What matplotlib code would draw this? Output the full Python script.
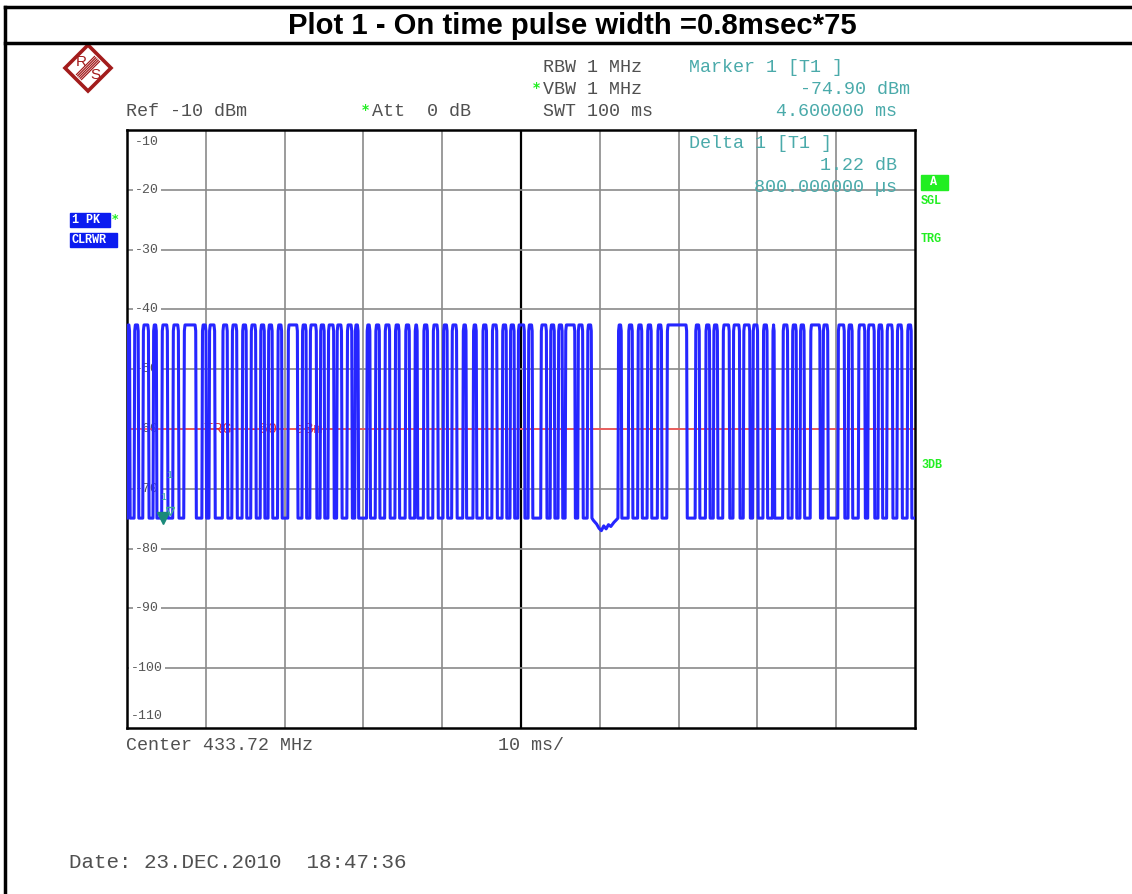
import numpy as np
import matplotlib
matplotlib.use("Agg")
import matplotlib.pyplot as plt
from matplotlib.patches import Polygon, Rectangle

# sweep: 0..100 ms, ref level -10 dBm, 10 dB/div
t_min, t_max = 0.0, 100.0
db_top, db_bottom = -10, -110
y_labels = [-10, -20, -30, -40, -50, -60, -70, -80, -90, -100, -110]

high_db = -42.6
low_db = -74.9
trigger_db = -60

# pulse on-times (ms)
pulse_start = [0.0, 0.9, 2.0, 3.3, 4.4, 5.8, 7.2, 9.5, 10.4, 12.1, 13.3, 14.6,
               15.7, 16.9, 17.9, 19.1, 20.4, 22.2, 23.2, 24.5, 25.5, 26.6, 27.9,
               28.9, 30.4, 31.5, 32.7, 34.0, 35.3, 36.5, 37.6, 38.8, 40.1, 41.2,
               42.6, 43.9, 45.1, 46.3, 47.6, 48.6, 49.6, 50.9, 52.5, 53.7, 54.7,
               55.6, 57.2, 58.4, 62.3, 63.6, 64.8, 66.0, 67.3, 68.5, 72.1, 73.4,
               74.4, 75.6, 76.9, 78.2, 79.4, 80.7, 81.9, 83.2, 84.4, 85.4, 86.7,
               88.3, 90.2, 91.5, 92.8, 94.0, 95.3, 96.4, 97.7, 99.0]
pulse_end = [0.4, 1.5, 2.8, 3.8, 5.2, 6.6, 8.8, 10.1, 11.2, 12.8, 14.0, 15.2,
             16.4, 17.5, 18.5, 19.7, 21.7, 22.8, 24.1, 25.1, 26.3, 27.3, 28.6,
             29.4, 30.9, 32.1, 33.4, 34.6, 35.9, 36.9, 38.2, 39.5, 40.7, 41.9,
             43.1, 44.4, 45.7, 47.0, 48.2, 49.2, 50.5, 51.5, 53.3, 54.3, 55.3,
             56.9, 57.9, 59.0, 62.8, 64.2, 65.4, 66.6, 67.9, 71.1, 72.7, 74.0,
             75.0, 76.5, 77.8, 79.1, 80.1, 81.3, 82.2, 83.9, 85.0, 86.0, 88.0,
             89.0, 91.1, 92.1, 93.7, 94.9, 95.9, 97.2, 98.4, 99.6]

# noisy floor in the long off-gap
noise_t = [59.2, 59.6, 59.9, 60.2, 60.5, 60.8, 61.1, 61.4, 61.8, 62.1]
noise_db = [-75.3, -75.9, -76.6, -77.0, -76.2, -76.7, -76.0, -76.3, -75.6, -75.2]

marker_t, marker_db = 4.6, -74.9
delta_t, delta_db = 5.4, -73.68

# build the trace from the pulse edges
edge = 0.08
tr_t, tr_db = [], []
for i, (s, e) in enumerate(zip(pulse_start, pulse_end)):
    tr_t += [s, s + edge, s + 2 * edge, e - 2 * edge, e - edge, e]
    tr_db += [low_db, high_db - 1.0, high_db, high_db, high_db - 1.0, low_db]
    if i + 1 < len(pulse_start) and pulse_start[i + 1] > 60 > e:
        tr_t += noise_t
        tr_db += noise_db
tr_t.append(t_max)
tr_db.append(low_db)

fig = plt.figure(figsize=(11.32, 8.94), dpi=100)
W, H = 1132, 894

def px(x0, y0, x1, y1):
    return [x0 / W, 1 - y1 / H, (x1 - x0) / W, (y1 - y0) / H]

ax = fig.add_axes(px(127, 130, 915, 728))
ax.set_xlim(t_min, t_max)
ax.set_ylim(db_bottom, db_top)
ax.set_xticks([])
ax.set_yticks([])
for sp in ax.spines.values():
    sp.set_linewidth(1.8)
    sp.set_color("black")

for k in range(1, 10):
    tx = t_min + k * (t_max - t_min) / 10
    if k == 5:
        ax.axvline(tx, color="black", lw=1.6, zorder=1)
    else:
        ax.axvline(tx, color="#8a8a8a", lw=1.2, zorder=1)
for v in y_labels[1:-1]:
    ax.axhline(v, color="#8a8a8a", lw=1.2, zorder=1)

mono = "Liberation Mono"
ytf = ax.get_yaxis_transform()
for v in y_labels:
    yy = v
    if v == db_top:
        yy = v - 2
    elif v == db_bottom:
        yy = v + 2
    ax.text(0.025, yy, "%d" % v, transform=ytf, ha="center", va="center",
            family=mono, fontsize=9.5, color="#555555", zorder=2,
            bbox=dict(facecolor="white", edgecolor="none", pad=1.5))

ax.axhline(trigger_db, color="#ff5050", lw=1.1, zorder=2)
ax.text(9.8, trigger_db, "TRG  -60  dBm", ha="left", va="center", family=mono,
        fontsize=11, color="#e03030", zorder=2)

ax.plot(tr_t, tr_db, color="#2626ff", lw=2.2, zorder=3)

ax.plot([marker_t], [marker_db], marker="v", color="#1a8a7a", ms=8, zorder=4)
ax.text(marker_t, marker_db + 3.5, "1", ha="center", va="center", family=mono,
        fontsize=7, color="#3aa89a", zorder=4)
ax.plot([delta_t], [delta_db], marker="v", mfc="none", mec="#3aa89a", ms=6, zorder=4)
ax.text(delta_t, delta_db + 6, "1", ha="center", va="center", family=mono,
        fontsize=7, color="#3aa89a", zorder=4)

# overlay in pixel coordinates for the screen annotations
ov = fig.add_axes([0, 0, 1, 1], zorder=5)
ov.patch.set_alpha(0)
ov.set_xlim(0, W)
ov.set_ylim(H, 0)
ov.axis("off")

ov.plot([5, W], [7, 7], color="black", lw=2.5)
ov.plot([5, W], [43, 43], color="black", lw=2.5)
ov.plot([5, 5], [7, H], color="black", lw=2.5)
ov.text(572, 26, "Plot 1 - On time pulse width =0.8msec*75", ha="center", va="center",
        family="Liberation Sans", fontweight="bold", fontsize=21.1, color="black")

gray = "#505050"
teal = "#4aaaaa"
green = "#22ee22"
fs = 13.2

def mtext(x, y, s, color=gray, ha="left", size=fs):
    ov.text(x, y, s, ha=ha, va="center", family=mono, fontsize=size, color=color)

mtext(543, 68, "RBW 1 MHz")
mtext(543, 90, "VBW 1 MHz")
mtext(543, 112, "SWT 100 ms")
mtext(126, 112, "Ref -10 dBm")
mtext(372, 112, "Att  0 dB")
ov.text(536, 88, "*", ha="center", va="center", fontsize=10, color=green, fontweight="bold")
ov.text(365, 110, "*", ha="center", va="center", fontsize=10, color=green, fontweight="bold")

mtext(689, 68, "Marker 1 [T1 ]", teal)
mtext(910, 90, "-74.90 dBm", teal, ha="right")
mtext(897, 112, "4.600000 ms", teal, ha="right")
mtext(689, 143, "Delta 1 [T1 ]", teal)
mtext(897, 166, "1.22 dB", teal, ha="right")
mtext(897, 188, "800.000000 \u00b5s", teal, ha="right")

mtext(126, 745, "Center 433.72 MHz")
mtext(498, 745, "10 ms/")
mtext(69, 862, "Date: 23.DEC.2010  18:47:36", size=15)

# side labels
ov.add_patch(Rectangle((70, 213), 40, 14, color="#0b1cf0"))
ov.add_patch(Rectangle((70, 233), 47, 14, color="#0b1cf0"))
ov.text(72, 220, "1 PK", ha="left", va="center", family=mono, fontsize=8.5,
        fontweight="bold", color="white")
ov.text(72, 240, "CLRWR", ha="left", va="center", family=mono, fontsize=8.5,
        fontweight="bold", color="white")
ov.text(115, 219, "*", ha="center", va="center", fontsize=9, color=green, fontweight="bold")

ov.add_patch(Rectangle((921, 175), 27, 15, color="#22ee22"))
ov.text(934, 182, "A", ha="center", va="center", family=mono, fontsize=8.5,
        fontweight="bold", color="white")
for yy, s in [(201, "SGL"), (239, "TRG"), (465, "3DB")]:
    ov.text(921, yy, s, ha="left", va="center", family=mono, fontsize=8.5,
            fontweight="bold", color=green)

# R&S logo
cx, cy, r = 88, 68, 23
dark_red = "#a31c1c"
ov.add_patch(Polygon([(cx, cy - r), (cx + r, cy), (cx, cy + r), (cx - r, cy)],
                     closed=True, fill=False, edgecolor=dark_red, lw=2.6))
for d in np.linspace(-2.5, 2.5, 5):
    ov.plot([cx - 9 + d, cx + 9 + d], [cy + 9 + d, cy - 9 + d], color=dark_red, lw=0.9)
ov.text(cx - 7, cy - 6, "R", ha="center", va="center", fontsize=11, color=dark_red,
        family="Liberation Sans")
ov.text(cx + 7, cy + 7, "S", ha="center", va="center", fontsize=11, color=dark_red,
        family="Liberation Sans")

fig.savefig("out.png", dpi=100, facecolor="white")
